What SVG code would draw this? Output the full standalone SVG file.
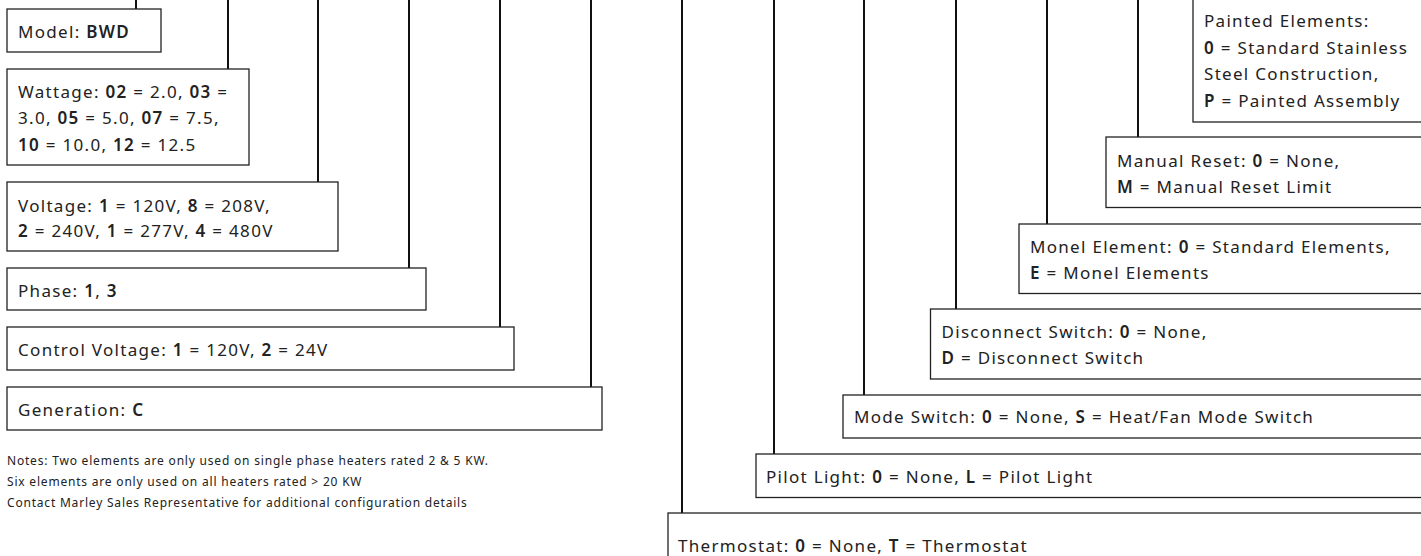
<svg xmlns="http://www.w3.org/2000/svg" width="1421" height="556" viewBox="0 0 1421 556">
<style>
  .box{fill:#fff;stroke:#222;stroke-width:1.3}
  .t{font-family:"Noto Sans","Liberation Sans",sans-serif;font-size:17px;letter-spacing:1.3px;fill:#222}
  .n{font-family:"Noto Sans","Liberation Sans",sans-serif;font-size:12px;letter-spacing:0.8px;fill:#222}
  .b{font-weight:600}
  .c{stroke:#111;stroke-width:2;fill:none}
</style>
<rect width="1421" height="556" fill="#fff"/>
<g id="connectors">
  <line class="c" x1="136" y1="0" x2="136" y2="9"/>
  <line class="c" x1="228" y1="0" x2="228" y2="69"/>
  <line class="c" x1="318" y1="0" x2="318" y2="182"/>
  <line class="c" x1="409" y1="0" x2="409" y2="268"/>
  <line class="c" x1="500" y1="0" x2="500" y2="327"/>
  <line class="c" x1="591" y1="0" x2="591" y2="387"/>
  <line class="c" x1="682" y1="0" x2="682" y2="513"/>
  <line class="c" x1="774" y1="0" x2="774" y2="454"/>
  <line class="c" x1="864" y1="0" x2="864" y2="395"/>
  <line class="c" x1="956" y1="0" x2="956" y2="309"/>
  <line class="c" x1="1047" y1="0" x2="1047" y2="224"/>
  <line class="c" x1="1138" y1="0" x2="1138" y2="137"/>
</g>
<g id="model">
  <rect class="box" x="7" y="9" width="154" height="43"/>
  <text class="t" x="18" y="37.5">Model: <tspan class="b">BWD</tspan></text>
</g>
<g id="wattage">
  <rect class="box" x="7" y="69" width="242" height="96"/>
  <text class="t" x="18" y="97.5">Wattage: <tspan class="b">02</tspan> = 2.0, <tspan class="b">03</tspan> =</text>
  <text class="t" x="18" y="124">3.0, <tspan class="b">05</tspan> = 5.0, <tspan class="b">07</tspan> = 7.5,</text>
  <text class="t" x="18" y="150.5"><tspan class="b">10</tspan> = 10.0, <tspan class="b">12</tspan> = 12.5</text>
</g>
<g id="voltage">
  <rect class="box" x="7" y="182" width="331" height="69"/>
  <text class="t" x="18" y="212">Voltage: <tspan class="b">1</tspan> = 120V, <tspan class="b">8</tspan> = 208V,</text>
  <text class="t" x="18" y="237"><tspan class="b">2</tspan> = 240V, <tspan class="b">1</tspan> = 277V, <tspan class="b">4</tspan> = 480V</text>
</g>
<g id="phase">
  <rect class="box" x="7" y="268" width="419" height="42"/>
  <text class="t" x="18" y="297">Phase: <tspan class="b">1</tspan>, <tspan class="b">3</tspan></text>
</g>
<g id="control-voltage">
  <rect class="box" x="7" y="327" width="507" height="43"/>
  <text class="t" x="18" y="356">Control Voltage: <tspan class="b">1</tspan> = 120V, <tspan class="b">2</tspan> = 24V</text>
</g>
<g id="generation">
  <rect class="box" x="7" y="387" width="595" height="43"/>
  <text class="t" x="18" y="416">Generation: <tspan class="b">C</tspan></text>
</g>
<g id="notes">
  <text class="n" x="7" y="465">Notes: Two elements are only used on single phase heaters rated 2 &amp; 5 KW.</text>
  <text class="n" x="7" y="486">Six elements are only used on all heaters rated &gt; 20 KW</text>
  <text class="n" x="7" y="507">Contact Marley Sales Representative for additional configuration details</text>
</g>
<g id="painted">
  <rect class="box" x="1193" y="-10" width="240" height="132"/>
  <text class="t" x="1204" y="27">Painted Elements:</text>
  <text class="t" x="1204" y="53.5"><tspan class="b">0</tspan> = Standard Stainless</text>
  <text class="t" x="1204" y="80">Steel Construction,</text>
  <text class="t" x="1204" y="106.5"><tspan class="b">P</tspan> = Painted Assembly</text>
</g>
<g id="manual-reset">
  <rect class="box" x="1106" y="137" width="330" height="70.5"/>
  <text class="t" x="1117" y="166.5">Manual Reset: <tspan class="b">0</tspan> = None,</text>
  <text class="t" x="1117" y="193"><tspan class="b">M</tspan> = Manual Reset Limit</text>
</g>
<g id="monel">
  <rect class="box" x="1019" y="224" width="420" height="69.5"/>
  <text class="t" x="1030" y="252.5">Monel Element: <tspan class="b">0</tspan> = Standard Elements,</text>
  <text class="t" x="1030" y="279"><tspan class="b">E</tspan> = Monel Elements</text>
</g>
<g id="disconnect">
  <rect class="box" x="930.5" y="309" width="510" height="70"/>
  <text class="t" x="941.5" y="338">Disconnect Switch: <tspan class="b">0</tspan> = None,</text>
  <text class="t" x="941.5" y="364"><tspan class="b">D</tspan> = Disconnect Switch</text>
</g>
<g id="mode-switch">
  <rect class="box" x="843" y="395" width="600" height="43"/>
  <text class="t" x="854" y="423">Mode Switch: <tspan class="b">0</tspan> = None, <tspan class="b">S</tspan> = Heat/Fan Mode Switch</text>
</g>
<g id="pilot-light">
  <rect class="box" x="756" y="454" width="690" height="43.5"/>
  <text class="t" x="766" y="483">Pilot Light: <tspan class="b">0</tspan> = None, <tspan class="b">L</tspan> = Pilot Light</text>
</g>
<g id="thermostat">
  <rect class="box" x="668" y="513" width="780" height="60"/>
  <text class="t" x="678" y="551.5">Thermostat: <tspan class="b">0</tspan> = None, <tspan class="b">T</tspan> = Thermostat</text>
</g>
</svg>
